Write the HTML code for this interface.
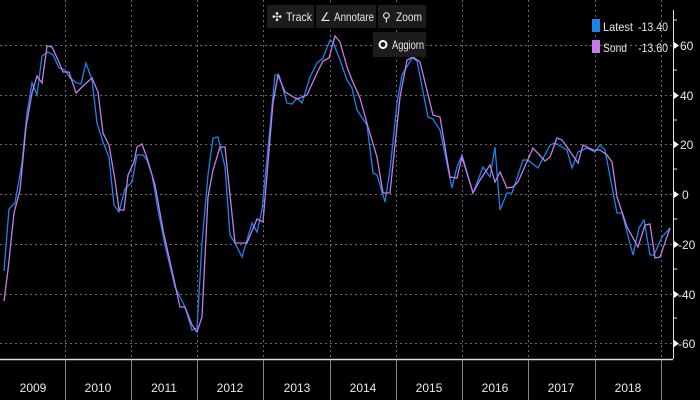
<!DOCTYPE html>
<html><head><meta charset="utf-8"><style>
html,body{margin:0;padding:0;background:#000;width:700px;height:400px;overflow:hidden}
svg{display:block}
text{font-family:"Liberation Sans",sans-serif;fill:#e8e8e8}
</style></head><body>
<svg width="700" height="400" viewBox="0 0 700 400">
<rect width="700" height="400" fill="#000"/>
<g stroke="#6a6a6a" stroke-width="1" stroke-dasharray="2,3">
<line x1="0" y1="45.5" x2="672" y2="45.5"/>
<line x1="0" y1="95.5" x2="672" y2="95.5"/>
<line x1="0" y1="144.5" x2="672" y2="144.5"/>
<line x1="0" y1="194.5" x2="672" y2="194.5"/>
<line x1="0" y1="244.5" x2="672" y2="244.5"/>
<line x1="0" y1="294.5" x2="672" y2="294.5"/>
<line x1="0" y1="343.5" x2="672" y2="343.5"/>
<line x1="65.5" y1="0" x2="65.5" y2="359"/>
<line x1="131.5" y1="0" x2="131.5" y2="359"/>
<line x1="197.5" y1="0" x2="197.5" y2="359"/>
<line x1="263.5" y1="0" x2="263.5" y2="359"/>
<line x1="330.5" y1="0" x2="330.5" y2="359"/>
<line x1="396.5" y1="0" x2="396.5" y2="359"/>
<line x1="462.5" y1="0" x2="462.5" y2="359"/>
<line x1="528.5" y1="0" x2="528.5" y2="359"/>
<line x1="595.5" y1="0" x2="595.5" y2="359"/>
<line x1="661.5" y1="0" x2="661.5" y2="359"/>
</g>
<polyline fill="none" stroke="#1a84e8" stroke-width="1.3" points="4,271 9,209 15,203 22,163 27,113 32,83 37,95 42,56 48,52 53,55 59,68 65,70 70,78 77,83 81,84 86,63 92,80 97,123 103,142 109,157 114,205 119,212 125,189 132,182 137,155 143,155 147,160 152,175 158,210 165,245 175,287 185,307 192,330 197,328 202,243 208,175 213,138 218,137 225,167 230,235 235,243 242,257 252,223 257,232 262,210 275,75 279,75 287,103 292,104 297,98 302,103 310,77 317,63 323,58 330,40 333,42 340,60 347,80 352,88 357,110 367,125 373,173 377,175 385,202 390,170 397,103 402,75 412,58 417,61 428,117 433,119 440,130 452,188 457,167 462,155 473,193 483,167 490,177 495,147 500,210 507,193 512,193 523,160 528,160 538,168 550,145 555,143 567,150 572,168 578,152 587,148 595,152 600,145 605,150 617,213 622,213 633,255 639,228 644,220 650,255 654,255 662,237 670,228"/>
<polyline fill="none" stroke="#c77ae8" stroke-width="1.3" points="4,301 8,270 14,213 20,190 26,127 32,93 37,76 42,83 47,46 52,47 58,60 63,72 69,72 76,93 83,86 92,78 98,92 103,133 109,145 115,180 119,210 124,210 128,175 134,162 137,147 142,144 147,158 155,185 163,230 180,307 185,307 192,325 197,332 202,317 208,197 213,170 220,147 225,147 235,243 247,243 257,219 263,222 273,103 278,75 285,92 297,99 302,97 307,95 317,73 323,61 329,58 335,36 340,42 347,67 352,80 360,98 368,127 377,157 383,193 390,193 400,97 407,60 413,57 420,62 433,115 440,117 450,177 457,178 462,157 473,193 480,180 490,165 495,182 500,172 507,188 513,187 518,182 533,148 545,161 550,157 557,138 562,140 567,147 578,163 583,145 593,150 600,150 607,155 612,162 617,197 627,227 638,247 645,225 650,224 655,258 660,257 670,228"/>
<!-- right axis -->
<line x1="673.5" y1="10" x2="673.5" y2="359" stroke="#ddd" stroke-width="1"/>
<g stroke="#ddd"><line x1="673" y1="20" x2="677" y2="20"/><line x1="673" y1="70" x2="677" y2="70"/><line x1="673" y1="120" x2="677" y2="120"/><line x1="673" y1="169" x2="677" y2="169"/><line x1="673" y1="219" x2="677" y2="219"/><line x1="673" y1="269" x2="677" y2="269"/><line x1="673" y1="318" x2="677" y2="318"/></g>
<g fill="#fff">
<polygon points="674,42 679,45.5 674,49"/><polygon points="674,92 679,95.5 674,99"/><polygon points="674,141 679,144.5 674,148"/><polygon points="674,191 679,194.5 674,198"/><polygon points="674,241 679,244.5 674,248"/><polygon points="674,291 679,294.5 674,298"/><polygon points="674,340 679,343.5 674,347"/>
</g>
<g font-size="12">
<text x="680" y="50">60</text><text x="680" y="100">40</text><text x="680" y="149">20</text><text x="682" y="199">0</text><text x="678" y="249">-20</text><text x="678" y="299">-40</text><text x="678" y="348">-60</text>
</g>
<!-- x axis -->
<line x1="0" y1="359.5" x2="673" y2="359.5" stroke="#ddd" stroke-width="1.5"/>
<g stroke="#888">
<line x1="65.5" y1="360" x2="65.5" y2="400"/><line x1="131.5" y1="360" x2="131.5" y2="400"/><line x1="197.5" y1="360" x2="197.5" y2="400"/><line x1="263.5" y1="360" x2="263.5" y2="400"/><line x1="330.5" y1="360" x2="330.5" y2="400"/><line x1="396.5" y1="360" x2="396.5" y2="400"/><line x1="462.5" y1="360" x2="462.5" y2="400"/><line x1="528.5" y1="360" x2="528.5" y2="400"/><line x1="595.5" y1="360" x2="595.5" y2="400"/><line x1="661.5" y1="360" x2="661.5" y2="400"/>
</g>
<g font-size="12" text-anchor="middle">
<text x="33" y="392">2009</text><text x="98" y="392">2010</text><text x="164" y="392">2011</text><text x="230" y="392">2012</text><text x="297" y="392">2013</text><text x="363" y="392">2014</text><text x="429" y="392">2015</text><text x="495" y="392">2016</text><text x="561" y="392">2017</text><text x="628" y="392">2018</text>
</g>
<!-- toolbar -->
<rect x="267" y="5" width="47" height="23" fill="#1c1c1c"/>
<rect x="316" y="5" width="60" height="23" fill="#1c1c1c"/>
<rect x="378" y="5" width="48" height="23" fill="#1c1c1c"/>
<g font-size="12">
<text x="272" y="21" fill="#888">✣</text><text x="286" y="21" textLength="26" lengthAdjust="spacingAndGlyphs">Track</text>
<text x="320" y="21" fill="#888">∠</text><text x="334" y="21" textLength="40" lengthAdjust="spacingAndGlyphs">Annotare</text>
<text x="382" y="21" fill="#888">⚲</text><text x="396" y="21" textLength="26" lengthAdjust="spacingAndGlyphs">Zoom</text>
</g>
<rect x="373" y="32" width="53" height="25" fill="#1c1c1c"/>
<circle cx="383" cy="44.5" r="3.5" fill="none" stroke="#fff" stroke-width="2"/>
<text x="392" y="49" font-size="12" textLength="32" lengthAdjust="spacingAndGlyphs">Aggiorn</text>
<!-- legend -->
<rect x="592" y="19" width="8" height="13" fill="#1a84e8"/>
<rect x="592" y="40" width="8" height="13" fill="#c77ae8"/>
<g font-size="12"><text x="603" y="31" textLength="30" lengthAdjust="spacingAndGlyphs">Latest</text><text x="638" y="31" textLength="30" lengthAdjust="spacingAndGlyphs">-13.40</text>
<text x="603" y="52" textLength="24" lengthAdjust="spacingAndGlyphs">Sond</text><text x="638" y="52" textLength="30" lengthAdjust="spacingAndGlyphs">-13.60</text></g>
</svg>
</body></html>
